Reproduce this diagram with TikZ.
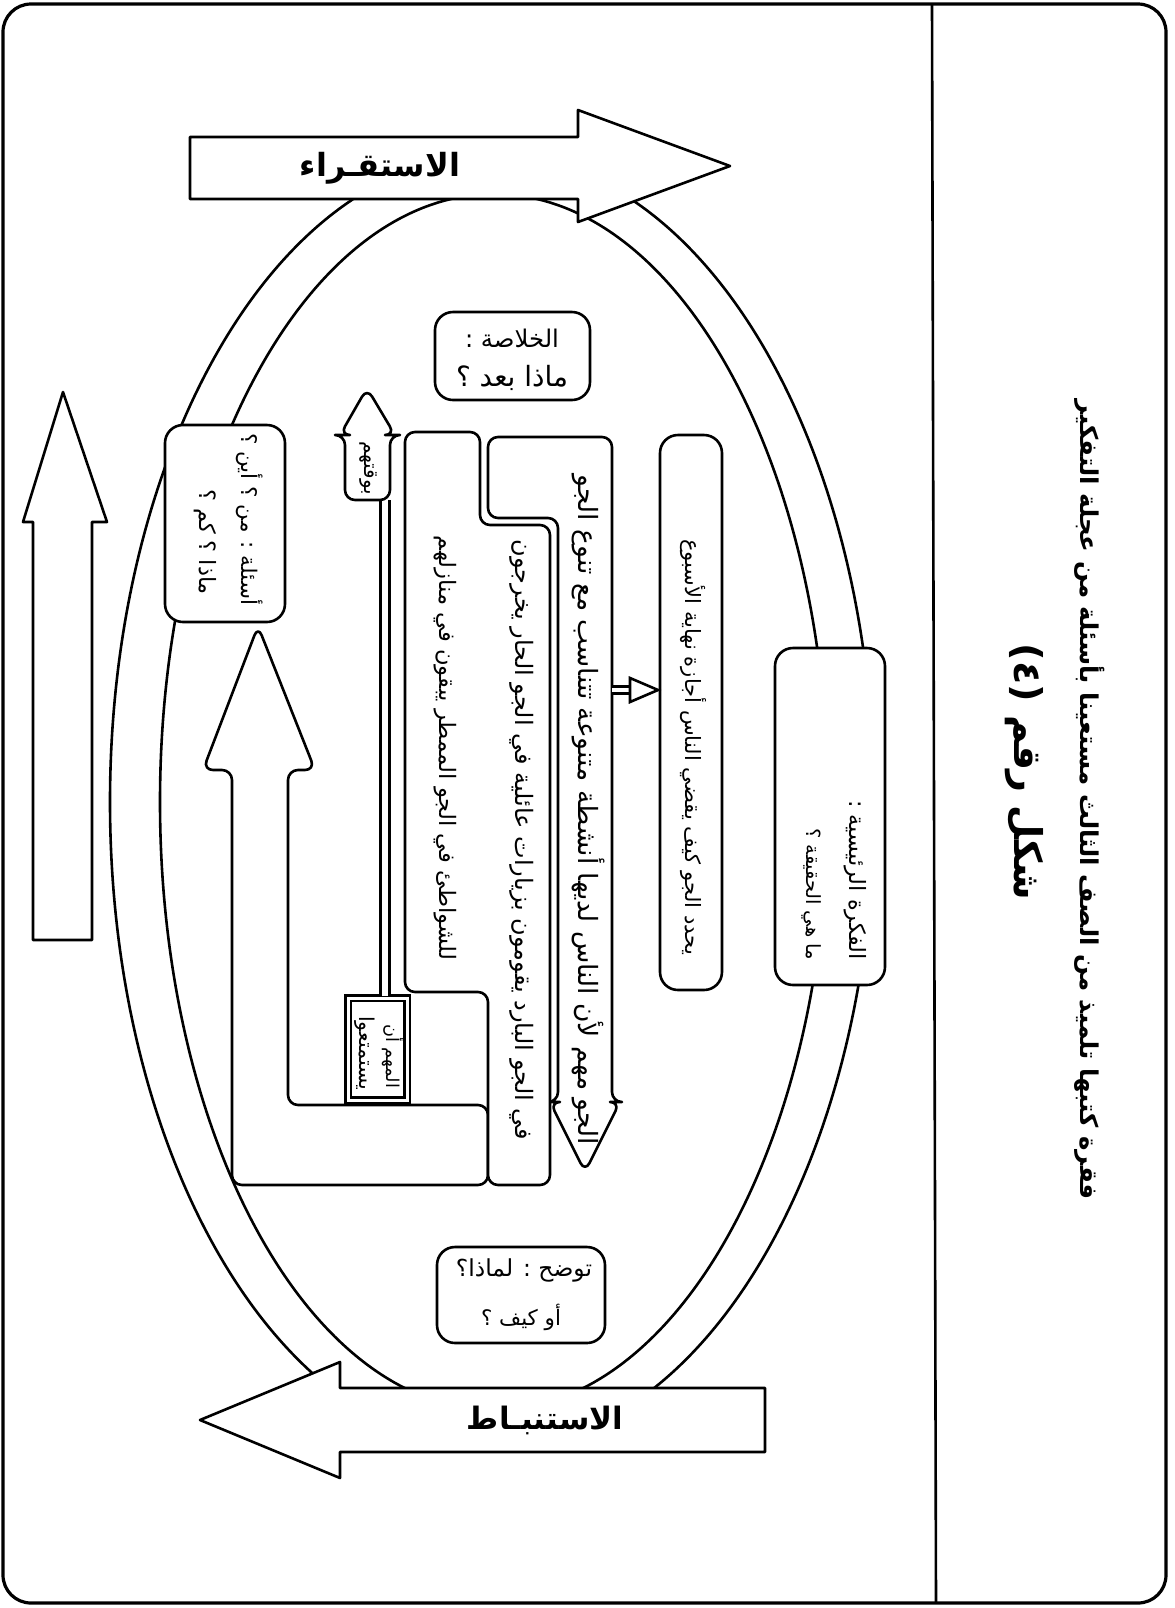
\documentclass[tikz,border=0pt]{standalone}
\usepackage{fontspec}
\setmainfont{DejaVu Sans}
\newfontfamily\arfont[Script=Arabic]{DejaVu Sans}
\TeXXeTstate=1
\newcommand\AR[2]{\resizebox{#1pt}{!}{\arfont #2}}
\newcommand\ARB[2]{\resizebox{#1pt}{!}{\arfont\bfseries #2}}
\begin{document}
\begin{tikzpicture}[x=0.5pt,y=-0.5pt,
  ln/.style={line width=1.3pt},
  shp/.style={ln, draw, fill=white, rounded corners=5pt, line join=round},
  tx/.style={inner sep=0pt, outer sep=0pt},
  rtx/.style={inner sep=0pt, outer sep=0pt, rotate=-90, anchor=east}]
\useasboundingbox (0,0) rectangle (1174,1608);
% frame
\draw[ln, line width=1.6pt, rounded corners=14pt] (3,4) rectangle (1166,1603);
\draw[ln] (932,4) -- (936,1603);
% title
\node[rtx] (t1) at (1090,1200) {\ARB{400}{\beginR فقرة كتبها تلميذ من الصف الثالث مستعينا بأسئلة من عجلة التفكير\endR}};
\node[rtx] (t2) at (1024,900) {\ARB{128}{\beginR شكل رقم (٤)\endR}};
% ellipses
\draw[ln] (492,802) ellipse [x radius=382, y radius=647];
\draw[ln] (494,802) ellipse [x radius=334, y radius=608];
% top / bottom arrows
\draw[shp, rounded corners=0pt] (190,137) -- (578,137) -- (578,110) -- (730,166) -- (578,222) -- (578,199) -- (190,199) -- cycle;
\node[tx] (ind) at (380,168) {\ARB{80}{\beginR الاستقـراء\endR}};
\draw[shp, rounded corners=0pt] (765,1388) -- (340,1388) -- (340,1362) -- (200,1420) -- (340,1478) -- (340,1452) -- (765,1452) -- cycle;
\node[tx] (ded) at (545,1420) {\ARB{78}{\beginR الاستنبـاط\endR}};
% left arrow
\draw[shp, rounded corners=0pt] (33,940) -- (33,522) -- (23,522) -- (63,392) -- (107,522) -- (92,522) -- (92,940) -- cycle;
% boxes on ellipse
\draw[shp, rounded corners=9pt] (775,648) rectangle (885,985);
\node[rtx] (f1) at (855,960) {\AR{80}{\beginR الفكرة الرئيسية :\endR}};
\node[rtx] (f2) at (812,960) {\AR{66}{\beginR ما هي الحقيقة ؟\endR}};
\draw[shp, rounded corners=9pt] (165,425) rectangle (285,622);
\node[rtx] (q1) at (250,605) {\AR{86}{\beginR أسئلة : من ؟ أين ؟\endR}};
\node[rtx] (q2) at (205,595) {\AR{53}{\beginR ماذا ؟ كم ؟\endR}};
\draw[shp, rounded corners=9pt] (435,312) rectangle (590,400);
\node[tx] (k1) at (512,338) {\AR{47}{\beginR الخلاصة :\endR}};
\node[tx] (k2) at (512,378) {\AR{56}{\beginR ماذا بعد ؟\endR}};
\draw[shp, rounded corners=9pt] (437,1247) rectangle (605,1343);
\node[tx, anchor=east] (w1) at (592,1270) {\AR{68}{\beginR توضح : لماذا؟\endR}};
\node[tx] (w2) at (521,1317) {\AR{40}{\beginR أو كيف ؟\endR}};
% main idea box
\draw[shp, rounded corners=9pt] (660,435) rectangle (722,990);
\node[rtx] (m1) at (693,955) {\AR{208}{\beginR يحدد الجو كيف يقضي الناس أجازة نهاية الأسبوع\endR}};
% explanation arrow
\draw[shp] (488,437) -- (612,437) -- (612,1102) -- (620,1102) -- (585,1172) -- (550,1102) -- (558,1102) -- (558,518) -- (488,518) -- cycle;
\node[rtx] (e1) at (588,1145) {\AR{335}{\beginR الجو مهم لأن الناس لديها أنشطة متنوعة تتناسب مع تنوع الجو\endR}};
\draw[ln, double, double distance=2pt] (612,690) -- (630,690);
\draw[ln, fill=white] (630,678) -- (658,690) -- (630,702) -- cycle;
% details + bent arrow
\draw[shp] (488,1105) -- (488,1185) -- (232,1185) -- (232,770) -- (203,770) -- (258,626) -- (315,770) -- (288,770) -- (288,1105) -- cycle;
\draw[shp] (405,432) -- (480,432) -- (480,525) -- (550,525) -- (550,1185) -- (488,1185) -- (488,992) -- (405,992) -- cycle;
\node[rtx] (d1) at (522,1140) {\AR{300}{\beginR في الجو البارد يقومون بزيارات عائلية في الجو الحار يخرجون\endR}};
\node[rtx] (d2) at (445,960) {\AR{212}{\beginR للشواطئ في الجو الممطر يبقون في منازلهم\endR}};
% conclusion
\draw[ln, double, double distance=1.5pt, fill=white] (348,998) rectangle (407,1100);
\node[rtx] (c1) at (393,1088) {\AR{32}{\beginR المهم أن\endR}};
\node[rtx] (c2) at (365,1090) {\AR{37}{\beginR يستمتعوا\endR}};
\draw[ln, double, double distance=3pt] (385,996) -- (385,500);
\draw[shp] (345,500) -- (345,435) -- (340,435) -- (367,388) -- (395,435) -- (390,435) -- (390,500) -- cycle;
\node[rtx, anchor=center] (c3) at (368,468) {\AR{27}{\beginR بوقتهم\endR}};
\end{tikzpicture}
\end{document}
